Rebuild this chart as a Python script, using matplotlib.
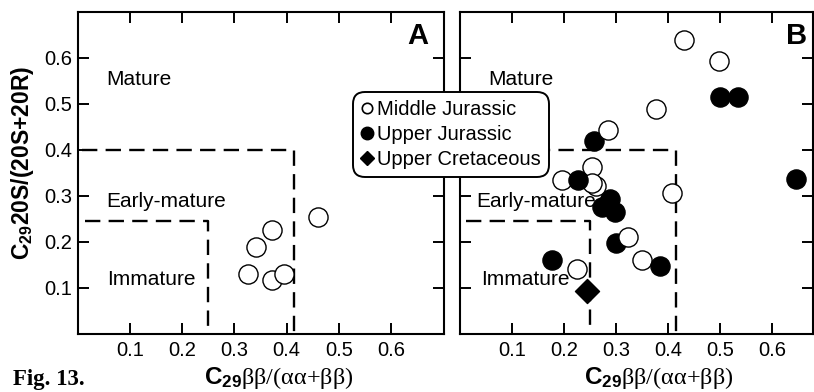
import matplotlib
matplotlib.use("Agg")
import matplotlib.pyplot as plt
from matplotlib.lines import Line2D

plt.rcParams["font.family"] = ["Liberation Sans", "DejaVu Sans"]
plt.rcParams["mathtext.fontset"] = "custom"
plt.rcParams["mathtext.rm"] = "Liberation Serif"
plt.rcParams["mathtext.it"] = "Liberation Serif:italic"
plt.rcParams["mathtext.bf"] = "Liberation Sans:bold"

# panel A - Middle Jurassic only
a_mid_x = [0.460, 0.372, 0.342, 0.327, 0.372, 0.395]
a_mid_y = [0.253, 0.225, 0.188, 0.131, 0.117, 0.131]

# panel B
b_mid_x = [0.431, 0.498, 0.377, 0.285, 0.254, 0.196, 0.262, 0.254, 0.407, 0.324, 0.350, 0.225]
b_mid_y = [0.638, 0.593, 0.488, 0.444, 0.363, 0.334, 0.321, 0.328, 0.307, 0.211, 0.160, 0.140]
b_up_x = [0.258, 0.500, 0.535, 0.645, 0.228, 0.289, 0.273, 0.298, 0.300, 0.177, 0.385]
b_up_y = [0.420, 0.514, 0.514, 0.336, 0.334, 0.294, 0.276, 0.265, 0.198, 0.160, 0.147]
b_up_front = [False, False, False, False, True, False, False, False, False, False, True]
b_cret_x = [0.244]
b_cret_y = [0.093]

# maturity boundaries (ratio thresholds)
mature_x, mature_y = 0.415, 0.40
immature_x, immature_y = 0.25, 0.245

ticks = [0.1, 0.2, 0.3, 0.4, 0.5, 0.6]

fig = plt.figure(figsize=(8.14, 3.92), dpi=100)
axA = fig.add_axes([0.0958, 0.1487, 0.4497, 0.8207])
axB = fig.add_axes([0.5646, 0.1487, 0.4342, 0.8207])

circ = dict(s=190, linewidths=1.0, edgecolors="black")


def style(ax, xmax, show_y):
    ax.set_xlim(0, xmax)
    ax.set_ylim(0, 0.7)
    ax.set_xticks(ticks)
    ax.set_yticks(ticks)
    ax.set_xticklabels([f"{t:.1f}" for t in ticks])
    ax.set_yticklabels([f"{t:.1f}" for t in ticks])
    ax.tick_params(direction="in", length=8, width=1.4, top=True, right=True,
                   labelsize=14.5, pad=5, labelleft=show_y)
    ax.tick_params(axis="y", pad=4)
    for sp in ax.spines.values():
        sp.set_linewidth(1.5)
    # boundary lines
    ax.plot([0.008, mature_x, mature_x], [mature_y, mature_y, 0],
            color="black", lw=1.7, dashes=(6.5, 3.5), zorder=1)
    ax.plot([0.013, immature_x, immature_x], [immature_y, immature_y, 0],
            color="black", lw=1.7, dashes=(6.5, 3.5), zorder=1)


style(axA, 0.702, True)
style(axB, 0.678, False)

lab = dict(fontsize=15, va="center")
axA.text(0.055, 0.553, "Mature", **lab)
axA.text(0.055, 0.287, "Early-mature", **lab)
axA.text(0.055, 0.119, "Immature", **lab)
axB.text(0.055, 0.553, "Mature", **lab)
axB.text(0.032, 0.287, "Early-mature", **lab)
axB.text(0.042, 0.119, "Immature", **lab)

axA.scatter(a_mid_x, a_mid_y, facecolors="white", zorder=3, **circ)

back_x = [x for x, f in zip(b_up_x, b_up_front) if not f]
back_y = [y for y, f in zip(b_up_y, b_up_front) if not f]
front_x = [x for x, f in zip(b_up_x, b_up_front) if f]
front_y = [y for y, f in zip(b_up_y, b_up_front) if f]
axB.scatter(back_x, back_y, facecolors="black", zorder=3, **circ)
axB.scatter(b_mid_x, b_mid_y, facecolors="white", zorder=4, **circ)
axB.scatter(front_x, front_y, facecolors="black", zorder=5, **circ)
axB.scatter(b_cret_x, b_cret_y, marker="D", s=150, facecolors="black",
            edgecolors="black", zorder=5)

axA.text(0.956, 0.925, "A", transform=axA.transAxes, ha="right", va="center",
         fontsize=21, fontweight="bold")
axB.text(0.983, 0.925, "B", transform=axB.transAxes, ha="right", va="center",
         fontsize=21, fontweight="bold")

ylab = r"C$_\mathbf{29}$20S/(20S+20R)"
fig.text(23 / 814, 1 - 163 / 392, ylab, rotation=90, ha="center", va="center",
         fontsize=16.5, fontweight="bold")
xlab = r"$\mathbf{C_{29}}\mathrm{\beta\beta/(\alpha\alpha{+}\beta\beta)}$"
fig.text(279 / 814, 0.036, xlab, ha="center", va="center", fontsize=17.5)
fig.text(659 / 814, 0.036, xlab, ha="center", va="center", fontsize=17.5)
fig.text(13 / 814, 0.032, "Fig. 13.", ha="left", va="center", fontsize=16.5,
         fontweight="bold", family="Liberation Serif")

handles = [
    Line2D([], [], ls="none", marker="o", ms=7.5, mfc="white", mec="black", mew=1.2),
    Line2D([], [], ls="none", marker="o", ms=9, mfc="black", mec="black"),
    Line2D([], [], ls="none", marker="D", ms=7.5, mfc="black", mec="black"),
]
leg = fig.legend(handles, ["Middle Jurassic", "Upper Jurassic", "Upper Cretaceous"],
                 loc="center", bbox_to_anchor=(451 / 814, 1 - 134.5 / 392),
                 fontsize=14.5, handlelength=0.6, handletextpad=0.2,
                 labelspacing=0.3, borderpad=0.1, borderaxespad=0,
                 framealpha=1, fancybox=True)
frame = leg.get_frame()
frame.set_edgecolor("black")
frame.set_linewidth(1.4)
frame.set_boxstyle("round", pad=0.3, rounding_size=0.6)

fig.savefig("out.png", dpi=100)
